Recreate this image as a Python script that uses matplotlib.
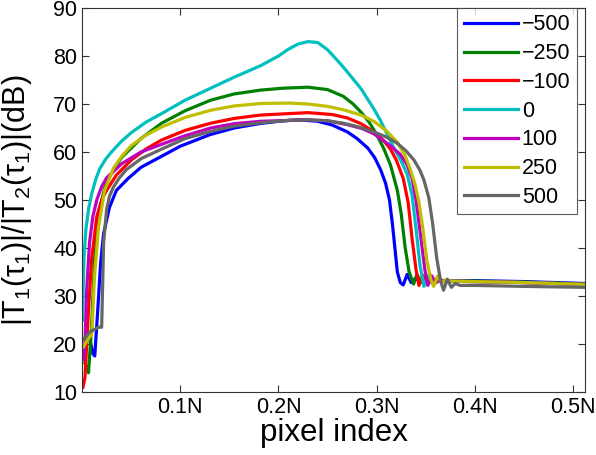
import matplotlib
matplotlib.use('Agg')
import matplotlib.pyplot as plt

plt.rcParams['font.family'] = ['Liberation Sans', 'DejaVu Sans']
plt.rcParams['mathtext.fontset'] = 'custom'
plt.rcParams['mathtext.rm'] = 'Liberation Sans'
plt.rcParams['mathtext.it'] = 'Liberation Sans'
plt.rcParams['mathtext.bf'] = 'Liberation Sans:bold'

# legend labels and colours (MATLAB default-ish)
labels = ['\u2212500', '\u2212250', '\u2212100', '0', '100', '250', '500']
colors = ['#0000ff', '#008000', '#ff0000', '#00bfbf', '#bf00bf', '#bfbf00', '#666666']

# curves: x in units of N, y in dB
x_m500 = [0.008, 0.011, 0.013, 0.016, 0.019, 0.022, 0.028, 0.035, 0.047, 0.06, 0.08, 0.1, 0.13, 0.155, 0.18, 0.2,
          0.22, 0.24, 0.255, 0.27, 0.28, 0.291, 0.298, 0.304, 0.309, 0.313, 0.316, 0.319, 0.321, 0.324, 0.327,
          0.331, 0.335, 0.339, 0.345, 0.40, 0.45, 0.512]
y_m500 = [21, 18, 17.5, 27, 37, 43, 48.5, 52, 54.5, 56.8, 59, 61.2, 63.6, 65, 65.9, 66.4,
          66.7, 66.4, 65.6, 64.2, 62.8, 60.8, 58.8, 56.3, 53.5, 50, 45, 39, 35, 32.8, 32.3,
          34.5, 32.8, 33.6, 33.2, 33.2, 33, 32.6]

x_m250 = [0.003, 0.0066, 0.0097, 0.0127, 0.018, 0.023, 0.028, 0.04, 0.06, 0.081, 0.105, 0.131, 0.155, 0.182, 0.205,
          0.23, 0.25, 0.266, 0.276, 0.284, 0.292, 0.299, 0.307, 0.314, 0.321, 0.325, 0.329, 0.333, 0.3375,
          0.341, 0.345, 0.349, 0.355, 0.40, 0.45, 0.512]
y_m250 = [16, 14, 23.5, 37.5, 48, 52.5, 54.8, 58.8, 62.8, 66, 68.6, 70.8, 72.1, 72.9, 73.3,
          73.5, 73, 71.6, 70, 68.3, 66.3, 64, 60.8, 57.3, 52, 47, 40, 35, 32.5,
          34.5, 32.8, 33.5, 33.2, 33.1, 32.9, 32.5]

x_m100 = [0.001, 0.003, 0.0066, 0.0097, 0.015, 0.02, 0.025, 0.035, 0.05, 0.065, 0.081, 0.105, 0.131, 0.155, 0.182,
          0.23, 0.255, 0.27, 0.284, 0.297, 0.307, 0.314, 0.320, 0.327, 0.332, 0.336, 0.340, 0.343,
          0.347, 0.351, 0.355, 0.36, 0.40, 0.45, 0.512]
y_m100 = [11, 13, 27, 37.5, 46.5, 50, 52, 55.2, 58.3, 60.6, 62.5, 64.5, 66, 67, 67.7,
          68.2, 67.8, 67.1, 65.9, 64.2, 62.4, 60.6, 58.3, 54.5, 49.5, 42, 35.5, 32.2,
          34.3, 32.7, 33.4, 33.1, 33, 32.8, 32.4]

x_0 = [0.0005, 0.002, 0.004, 0.007, 0.01, 0.014, 0.018, 0.024, 0.03, 0.04, 0.05, 0.065, 0.081, 0.105, 0.131, 0.155,
       0.182, 0.2, 0.21, 0.22, 0.23, 0.24, 0.25, 0.263, 0.27, 0.284, 0.297, 0.304, 0.317, 0.324, 0.331, 0.336,
       0.340, 0.344, 0.348, 0.352, 0.356, 0.360, 0.365, 0.40, 0.45, 0.512]
y_0 = [25, 38, 44, 48.5, 51.4, 54.3, 56.5, 58.5, 60, 62.2, 64, 66.2, 68, 70.8, 73.3, 75.6,
       78, 80, 81.4, 82.5, 83, 82.8, 81.3, 78.4, 76.7, 73.2, 69, 66.5, 61, 58.5, 55.4, 51,
       44, 36.5, 32, 34.2, 32.7, 33.4, 33.1, 33, 32.8, 32.4]

x_100 = [0.0015, 0.003, 0.0046, 0.0076, 0.011, 0.015, 0.02, 0.025, 0.04, 0.06, 0.081, 0.105, 0.131, 0.155, 0.182,
         0.23, 0.25, 0.27, 0.285, 0.297, 0.314, 0.324, 0.331, 0.336, 0.340, 0.345, 0.349, 0.352,
         0.356, 0.360, 0.364, 0.37, 0.40, 0.45, 0.512]
y_100 = [16.7, 20, 30.6, 41, 46.5, 50, 52.8, 54.6, 57.5, 60, 61.6, 63.4, 65, 65.9, 66.4,
         66.7, 66.5, 65.7, 64.9, 63.8, 61.3, 59.5, 57.3, 54.5, 50, 42, 35.5, 32.2,
         34.2, 32.7, 33.4, 33.1, 33, 32.8, 32.4]

x_250 = [0.0015, 0.006, 0.01, 0.0127, 0.0168, 0.023, 0.032, 0.04, 0.05, 0.065, 0.081, 0.105, 0.131, 0.155, 0.182,
         0.21, 0.23, 0.25, 0.266, 0.284, 0.297, 0.31, 0.321, 0.329, 0.334, 0.339, 0.343, 0.347, 0.351, 0.355, 0.358,
         0.362, 0.366, 0.370, 0.375, 0.40, 0.45, 0.512]
y_250 = [19.4, 21, 22, 34, 44.4, 52, 56.6, 59, 61.3, 63.5, 65.2, 67.2, 68.7, 69.6, 70.1,
         70.2, 70, 69.5, 68.8, 67.7, 66.4, 64.4, 62, 59.2, 56.5, 53.3, 49.5, 44, 37.5, 33.5, 32,
         34.2, 32.7, 33.4, 33.1, 33, 32.8, 32.4]

x_500 = [0.0015, 0.008, 0.0168, 0.020, 0.022, 0.025, 0.028, 0.032, 0.038, 0.045, 0.06, 0.081, 0.105, 0.131, 0.155,
         0.182, 0.21, 0.23, 0.25, 0.266, 0.282, 0.297, 0.31, 0.321, 0.33, 0.338, 0.344, 0.348, 0.353, 0.357,
         0.361, 0.365, 0.368, 0.372, 0.376, 0.380, 0.385, 0.40, 0.45, 0.512]
y_500 = [21, 22.5, 23.5, 23.5, 41, 48, 50.8, 52.7, 54.6, 56.3, 58.6, 60.6, 62.8, 64.3, 65.4,
         66.1, 66.6, 66.7, 66.5, 66, 65.2, 64.2, 63.1, 61.8, 60.2, 58.3, 56.2, 54.2, 50.5, 45,
         38, 33.2, 31.2, 33.5, 31.8, 32.6, 32.2, 32.2, 32, 31.8]

xs = [x_m500, x_m250, x_m100, x_0, x_100, x_250, x_500]
ys = [y_m500, y_m250, y_m100, y_0, y_100, y_250, y_500]

xticks = [0.1, 0.2, 0.3, 0.4, 0.5]
xticklabels = ['0.1N', '0.2N', '0.3N', '0.4N', '0.5N']
yticks = [10, 20, 30, 40, 50, 60, 70, 80, 90]

fig = plt.figure(figsize=(5.96, 4.55), dpi=100)
ax = fig.add_axes([0.1376, 0.1385, 0.8439, 0.8439])

for x, y, c, lab in zip(xs, ys, colors, labels):
    ax.plot(x, y, color=c, lw=2.3, label=lab, solid_joinstyle='round')

ax.set_xlim(0, 0.512)
ax.set_ylim(10, 90)
ax.set_xticks(xticks)
ax.set_xticklabels(xticklabels)
ax.set_yticks(yticks)
ax.tick_params(direction='in', length=5, width=0.8, labelsize=15.5, top=True, right=True,
               colors='#333333', labelcolor='black')
for s in ax.spines.values():
    s.set_color('#333333')
    s.set_linewidth(0.8)

ax.set_xlabel('pixel index', fontsize=22.5, labelpad=0)
ax.set_ylabel(r'$|\mathrm{T}_1(\tau_1)|/|\mathrm{T}_2(\tau_1)|(\mathrm{dB})$', fontsize=22, labelpad=14)

leg = ax.legend(loc='upper right', fontsize=15.5, handlelength=2.5, handletextpad=0.2,
                borderaxespad=0.0, bbox_to_anchor=(0.984, 1.0), fancybox=False,
                labelspacing=0.36, borderpad=0.3)
leg.get_frame().set_edgecolor('#333333')
leg.get_frame().set_linewidth(0.8)

fig.savefig('out.png', dpi=100)
